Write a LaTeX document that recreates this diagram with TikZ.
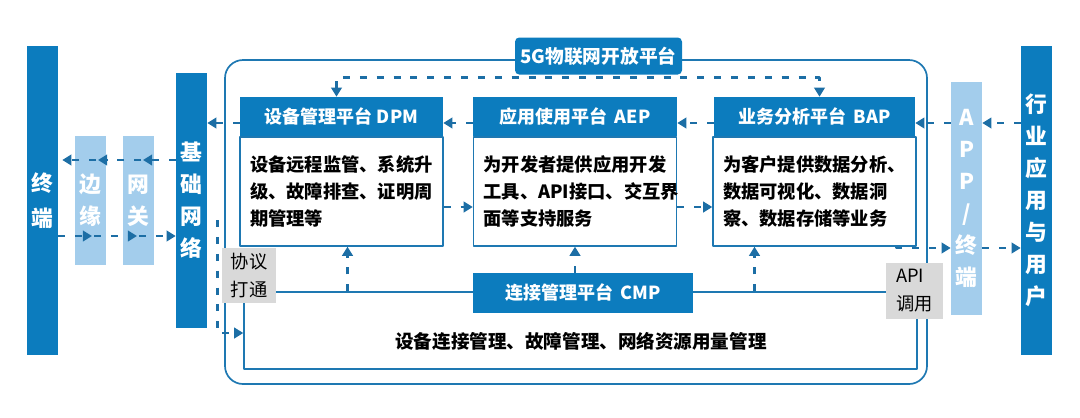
\documentclass[tikz,border=0pt]{standalone}
\usepackage{fontspec}
\setmainfont{Noto Sans CJK SC}
\usetikzlibrary{arrows.meta,positioning,calc}
\definecolor{cdark}{RGB}{12,124,190}
\definecolor{clight}{RGB}{163,205,236}
\definecolor{cline}{RGB}{30,120,178}
\definecolor{carr}{RGB}{28,110,165}
\definecolor{cgray}{RGB}{217,217,217}
\newcommand\pxu{0.025cm}
\tikzset{
  vbar/.style={fill=cdark, text=white, inner sep=0pt, minimum width=31*\pxu, align=center, font=\fontsize{15.5}{22.7}\selectfont\bfseries},
  lbar/.style={vbar, fill=clight},
  head/.style={fill=cdark, text=white, inner sep=0pt, minimum height=39*\pxu, font=\fontsize{12.8}{15}\selectfont\bfseries},
  body/.style={draw=cline, line width=1pt, fill=white, minimum height=109*\pxu, inner ysep=0pt, inner xsep=10*\pxu, text width=183*\pxu, align=left, font=\fontsize{13}{19.5}\selectfont\bfseries},
  gbox/.style={fill=cgray, text=black, inner sep=0pt, align=left, font=\fontsize{13}{20}\selectfont},
  darr/.style={draw=carr, line width=2pt, dash pattern=on 5pt off 7pt},
}
\begin{document}
\begin{tikzpicture}[x=\pxu, y=-\pxu, >={Triangle[length=6.5pt,width=7.5pt]}, line join=round]
\useasboundingbox (0,0) rectangle (1080,417);
% platform frame
\node[draw=cline, line width=1.2pt, rounded corners=0.45cm, minimum width=702*\pxu, minimum height=324*\pxu] (plat) at (576,222) {};
\node[draw=cline, line width=1pt, minimum width=673*\pxu, minimum height=77*\pxu] (cmpz) at (580.5,330.5) {};
\node[fill=cdark, text=white, rounded corners=3pt, minimum width=167*\pxu, minimum height=37*\pxu, font=\fontsize{13.3}{16}\selectfont\bfseries] (ttl) at (598.5,56) {5G物联网开放平台};

% side bars
\node[vbar, minimum height=309*\pxu, font=\fontsize{15.5}{25}\selectfont\bfseries] (term) at (42.5,200.5) {终\\端};
\node[lbar, minimum height=129*\pxu] (edge) at (90,200.5) {边\\缘};
\node[lbar, minimum height=129*\pxu] (gw) at (138,200.5) {网\\关};
\node[vbar, minimum height=255*\pxu] (basenet) at (191.5,200.5) {基\\础\\网\\络};
\node[lbar, minimum height=233*\pxu] (app) at (966.5,198.5) {A\\P\\P\\/\\终\\端};
\node[vbar, minimum height=309*\pxu] (ind) at (1036.5,200.5) {行\\业\\应\\用\\与\\用\\户};

% three platforms
\node[head, minimum width=203*\pxu] (dpmh) at (341.5,116.5) {设备管理平台 DPM};
\node[body, below=0pt of dpmh] (dpmb) {设备远程监管、系统升\\级、故障排查、证明周\\期管理等};
\node[head, minimum width=204*\pxu] (aeph) at (575,116.5) {应用使用平台\hspace{0.4em}AEP};
\node[body, below=0pt of aeph] (aepb) {为开发者提供应用开发\\工具、API接口、交互界\\面等支持服务};
\node[head, minimum width=201*\pxu] (baph) at (814.5,116.5) {业务分析平台\hspace{0.4em}BAP};
\node[body, below=0pt of baph] (bapb) {为客户提供数据分析、\\数据可视化、数据洞\\察、数据存储等业务};

% connection management
\node[head, minimum width=220*\pxu, minimum height=40*\pxu] (cmp) at (583,293) {连接管理平台\hspace{0.4em}CMP};
\node[font=\fontsize{13.2}{16}\selectfont\bfseries] (cmpd) at (581,341) {设备连接管理、故障管理、网络资源用量管理};

% rows of arrows
\coordinate (rowa) at (0,123);
\coordinate (rowb) at (0,207);
\coordinate (rowc) at (0,248);
\coordinate (rowd) at (0,333);
\coordinate (rowp) at (0,220);
\coordinate (rowu) at (0,160);
\coordinate (rowl) at (0,236);

\draw[darr,<->] ([xshift=-5*\pxu]dpmh.north) -- ++(0,-19) -| ([xshift=5*\pxu]baph.north);
\draw[darr,->] (dpmh.west |- rowa) -- (basenet.east |- rowa);
\draw[darr,->] (aeph.west |- rowa) -- (dpmh.east |- rowa);
\draw[darr,->] (baph.west |- rowa) -- (aeph.east |- rowa);
\draw[darr,->] (app.west |- rowa) -- (baph.east |- rowa);
\draw[darr,->] (ind.west |- rowa) -- (app.east |- rowa);
\draw[darr,->] (dpmb.east |- rowb) -- (aepb.west |- rowb);
\draw[darr,->] (aepb.east |- rowb) -- (bapb.west |- rowb);
\draw[darr,->] ([xshift=-20*\pxu]bapb.south east) |- (app.west |- rowc);
\draw[darr,->] (app.east |- rowc) -- (ind.west |- rowc);

% up from CMP
\coordinate (ua) at ([xshift=6*\pxu]dpmb.south);
\coordinate (uc) at ([xshift=-60*\pxu]bapb.south);
\draw[darr,->] (ua |- cmpz.north) -- (ua);
\draw[darr,->] (cmp.north -| aepb.south) -- (aepb.south);
\draw[darr,->] (uc |- cmpz.north) -- (uc);

% terminal side
\draw[darr,->] (basenet.west |- rowu) -- ($(gw |- rowu)+(5,0)$);
\draw[darr,->] ($(gw |- rowu)+(3,0)$) -- ($(edge |- rowu)+(8,0)$);
\draw[darr,->] ($(edge |- rowu)+(6,0)$) -- ($(term.east |- rowu)+(4,0)$);
\draw[darr,->] (term.east |- rowl) -- ($(edge |- rowl)+(2,0)$);
\draw[darr,->] ($(edge |- rowl)+(4,0)$) -- ($(gw |- rowl)+(-1,0)$);
\draw[darr,->] ($(gw |- rowl)+(1,0)$) -- (basenet.west |- rowl);
\draw[darr,->] ($(basenet.east |- rowp)+(10,0)$) |- (cmpz.west |- rowd);

% gateway labels
\node[gbox, minimum width=54*\pxu, minimum height=55*\pxu] (proto) at (249,275.5) {协议\\打通};
\node[gbox, minimum width=57*\pxu, minimum height=56*\pxu] (api) at (914.5,291) {API\\调用};
\end{tikzpicture}
\end{document}
